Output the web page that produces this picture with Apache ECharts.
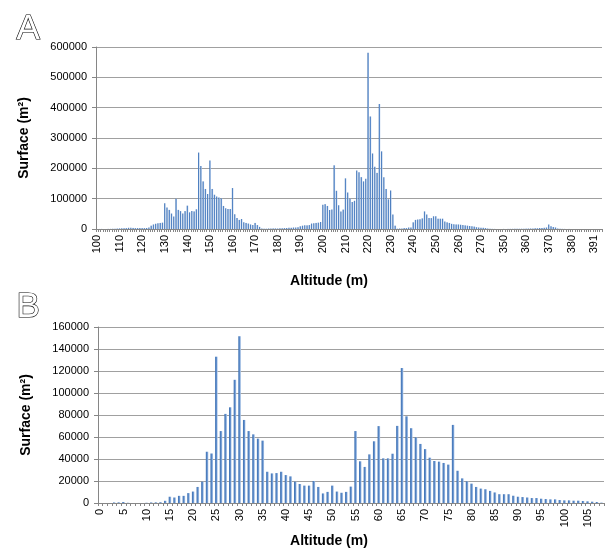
<!DOCTYPE html>
<html>
<head>
<meta charset="utf-8">
<script src="https://cdn.jsdelivr.net/npm/echarts@6/dist/echarts.min.js"></script>
<style>html,body{margin:0;padding:0;background:#fff;}#c{width:611px;height:549px;}</style>
</head>
<body>
<div id="c"></div>
<script>
// ---------- Panel A ----------
const altA = [];
for (let a = 100; a <= 279; a++) altA.push(String(a));
for (let a = 350; a <= 394; a++) { if (a !== 381) altA.push(String(a)); }

const surfA_100_279 = [
  200,200,300,300,400,400,500,600,800,1500,
  2000,2500,2500,3000,4000,4500,3500,3000,3000,3500,
  3000,3000,3500,5000,11000,15000,17000,19000,20000,21000,
  85000,71000,63000,51000,41000,100000,63000,59000,51000,59000,
  77000,55000,59000,58000,65000,252000,208000,157000,132000,115000,
  226000,132000,113000,107000,104000,101000,76000,68000,66000,66000,
  135000,49000,36000,30000,33000,22000,20000,18000,15000,13000,
  20000,13000,7000,2000,1000,1000,1500,1500,2000,2000,
  2000,2500,2500,3000,3500,4000,4000,5000,5000,6000,
  9000,11000,12000,12000,13000,18000,19000,20000,21000,23000,
  80000,82000,76000,63000,64000,210000,126000,78000,58000,64000,
  167000,120000,100000,89000,93000,193000,187000,171000,157000,166000,
  581000,371000,249000,205000,185000,412000,256000,171000,132000,98000,
  127000,48000,11000,1000,2000,2000,3000,3000,5000,5000,
  22000,30000,31000,32000,35000,58000,48000,36000,36000,42000,
  42000,34000,34000,34000,25000,22000,20000,17000,16000,15000,
  15000,14000,13000,12000,11000,10000,9000,8000,6000,5000,
  4500,4000,3000,2000,1000,500,300,200,100,100
];
const surfA_350_394 = [
  300,300,400,500,600,700,800,800,1000,1000,
  1200,1500,1500,2000,2500,2500,3000,3500,4000,5000,
  15000,9000,6500,5000,1500,800,500,300,200,200,
  100,100,100,100,100,100,0,0,0,0,
  0,0,0,0
];
const surfA = surfA_100_279.concat(surfA_350_394);

// ---------- Panel B ----------
const altB = [];
for (let a = 0; a <= 108; a++) altB.push(String(a));
const surfB = [
  0,0,0,500,600,900,200,0,0,0,
  200,500,600,700,2000,5700,5000,6500,6500,9000,
  10400,14600,19400,46600,45000,133000,65400,81000,87000,112000,
  151600,75500,65400,62400,58500,56700,28400,26900,27200,28400,
  25400,24200,19400,17300,15800,15800,20000,14600,8700,10100,
  15800,10400,9300,10100,14900,65400,37900,32800,44200,56100,
  69900,40600,40600,44800,70100,122700,78800,68000,59700,53700,
  49000,41200,38200,37600,36400,34900,71000,29300,22400,19700,
  17600,14600,13100,12500,11000,9600,8000,8000,8000,6600,
  5700,5400,5000,4500,4500,3900,3600,3300,3300,2700,
  2400,2400,2100,2100,1800,1500,1200,900,300
];

const FONT = 'Liberation Sans, Arial, sans-serif';
const barGrad = {
  type: 'linear', x: 0, y: 0, x2: 1, y2: 0,
  colorStops: [
    { offset: 0, color: '#3c6fb0' },
    { offset: 0.55, color: '#5d8ccb' },
    { offset: 1, color: '#bcd1ec' }
  ]
};

function xAx(gridIndex, data, interval, gap, pad) {
  return {
    type: 'category', gridIndex, data, boundaryGap: true,
    name: 'Altitude (m)', nameLocation: 'middle', nameGap: gap,
    nameTextStyle: { fontFamily: FONT, fontSize: 14, fontWeight: 'bold', color: '#000', padding: [0, pad, 0, 0] },
    axisLine: { show: true, lineStyle: { color: '#868686', width: 1 } },
    axisTick: { show: true, interval: 0, length: 3, lineStyle: { color: '#868686' } },
    axisLabel: { interval, rotate: 90, fontFamily: FONT, fontSize: 11, color: '#000', margin: 6 },
    splitLine: { show: false }
  };
}
function yAx(gridIndex, max, interval) {
  return {
    type: 'value', gridIndex, min: 0, max, interval,
    name: 'Surface (m²)', nameLocation: 'middle', nameGap: 65, nameRotate: 90,
    nameTextStyle: { fontFamily: FONT, fontSize: 14, fontWeight: 'bold', color: '#000' },
    axisLine: { show: true, lineStyle: { color: '#868686', width: 1 } },
    axisTick: { show: true, length: 4, lineStyle: { color: '#868686' } },
    axisLabel: { fontFamily: FONT, fontSize: 11, color: '#000', margin: 9, formatter: v => String(v) },
    splitLine: { show: true, lineStyle: { color: '#a0a0a0', width: 1 } }
  };
}

const chart = echarts.init(document.getElementById('c'), null, { renderer: 'canvas' });
chart.setOption({
  animation: false,
  backgroundColor: '#fff',
  grid: [
    { left: 96, right: 9, top: 47, height: 182 },
    { left: 98, right: 7, top: 327, height: 178 }
  ],
  xAxis: [xAx(0, altA, 9, 45, 40), xAx(1, altB, 4, 31, 44)],
  yAxis: [yAx(0, 600000, 100000), yAx(1, 160000, 20000)],
  series: [
    { type: 'bar', xAxisIndex: 0, yAxisIndex: 0, data: surfA, barWidth: '70%', itemStyle: { color: barGrad } },
    { type: 'bar', xAxisIndex: 1, yAxisIndex: 1, data: surfB, barWidth: '55%', itemStyle: { color: barGrad } }
  ],
  graphic: [
    { type: 'text', left: 16, top: 11, style: { text: 'A', font: '35px ' + FONT, fill: '#fff', stroke: '#000', lineWidth: 1.2 } },
    { type: 'text', left: 16, top: 289, style: { text: 'B', font: '35px ' + FONT, fill: '#fff', stroke: '#000', lineWidth: 1.2 } }
  ]
});
</script>
</body>
</html>
